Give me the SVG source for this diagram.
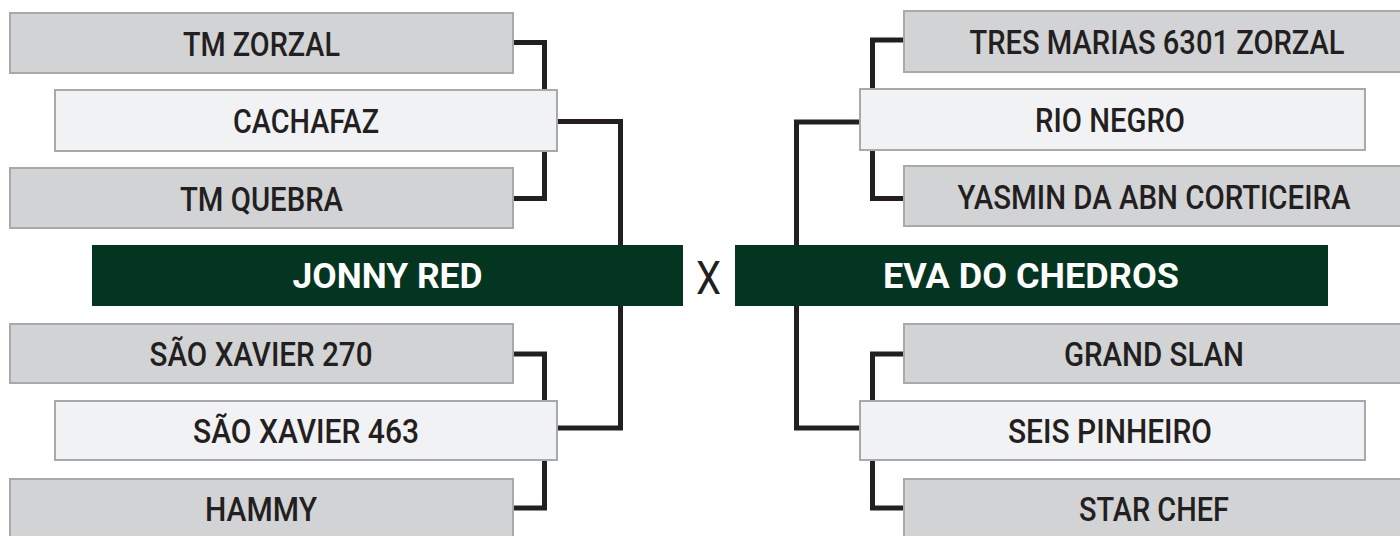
<svg xmlns="http://www.w3.org/2000/svg" width="1400" height="536" viewBox="0 0 1400 536">
<style>
.g{fill:#d1d3d4;stroke:#a7a9ac;stroke-width:2}
.l{fill:#f1f2f3;stroke:#a7a9ac;stroke-width:2}
.w{fill:#033520}
.t{font-family:Roboto,"Liberation Sans",Arial,sans-serif;font-size:33px;font-weight:500;fill:#231f20;text-anchor:middle}
.b{font-family:Roboto,"Liberation Sans",Arial,sans-serif;font-size:35px;font-weight:bold;fill:#ffffff;text-anchor:middle}
.x{font-family:Roboto,"Liberation Sans",Arial,sans-serif;font-size:46px;fill:#231f20;text-anchor:middle}
.c{fill:none;stroke:#231f20;stroke-width:5;stroke-linejoin:miter;stroke-linecap:butt}
</style>
<rect width="1400" height="536" fill="#ffffff"/>
<g id="connectors" class="c">
<path d="M514 42.5 H544.5 V90"/>
<path d="M544.5 151 V198.5 H514"/>
<path d="M558 121.5 H620.5 V245"/>
<path d="M514 354 H544.5 V401"/>
<path d="M544.5 460 V508 H514"/>
<path d="M558 428 H620.5 V306"/>
<path d="M903 40 H872.5 V90"/>
<path d="M872.5 151 V198.5 H903"/>
<path d="M859 122 H796.5 V245"/>
<path d="M903 354 H872.5 V401"/>
<path d="M872.5 460 V508 H903"/>
<path d="M859 428 H796.5 V306"/>
</g>
<g id="tm-zorzal"><rect class="g" x="10" y="13" width="503" height="60"/><text class="t" x="261.5" y="55.5" textLength="157" lengthAdjust="spacingAndGlyphs">TM ZORZAL</text></g>
<g id="cachafaz"><rect class="l" x="55" y="90" width="502" height="61"/><text class="t" x="306" y="133" textLength="146" lengthAdjust="spacingAndGlyphs">CACHAFAZ</text></g>
<g id="tm-quebra"><rect class="g" x="10" y="168" width="503" height="60"/><text class="t" x="261.5" y="210.5" textLength="163" lengthAdjust="spacingAndGlyphs">TM QUEBRA</text></g>
<g id="jonny-red"><rect class="w" x="92" y="245" width="591" height="61"/><text class="b" x="387.5" y="288" textLength="190" lengthAdjust="spacingAndGlyphs">JONNY RED</text></g>
<g id="sao-xavier-270"><rect class="g" x="10" y="324" width="503" height="59"/><text class="t" x="261" y="366" textLength="223" lengthAdjust="spacingAndGlyphs">SÃO XAVIER 270</text></g>
<g id="sao-xavier-463"><rect class="l" x="55" y="401" width="502" height="59"/><text class="t" x="306" y="443" textLength="226" lengthAdjust="spacingAndGlyphs">SÃO XAVIER 463</text></g>
<g id="hammy"><rect class="g" x="10" y="479" width="503" height="60"/><text class="t" x="261" y="521" textLength="112" lengthAdjust="spacingAndGlyphs">HAMMY</text></g>
<g id="versus"><text class="x" x="708.5" y="294" textLength="25" lengthAdjust="spacingAndGlyphs">X</text></g>
<g id="tres-marias"><rect class="g" x="904" y="11" width="503" height="61"/><text class="t" x="1157" y="54" textLength="375" lengthAdjust="spacingAndGlyphs">TRES MARIAS 6301 ZORZAL</text></g>
<g id="rio-negro"><rect class="l" x="860" y="89" width="505" height="61"/><text class="t" x="1110" y="132" textLength="150" lengthAdjust="spacingAndGlyphs">RIO NEGRO</text></g>
<g id="yasmin"><rect class="g" x="904" y="166" width="503" height="60"/><text class="t" x="1154" y="208.5" textLength="393" lengthAdjust="spacingAndGlyphs">YASMIN DA ABN CORTICEIRA</text></g>
<g id="eva-do-chedros"><rect class="w" x="735" y="245" width="593" height="61"/><text class="b" x="1031" y="288" textLength="296" lengthAdjust="spacingAndGlyphs">EVA DO CHEDROS</text></g>
<g id="grand-slan"><rect class="g" x="904" y="324" width="503" height="59"/><text class="t" x="1154" y="366" textLength="180" lengthAdjust="spacingAndGlyphs">GRAND SLAN</text></g>
<g id="seis-pinheiro"><rect class="l" x="860" y="401" width="505" height="59"/><text class="t" x="1110" y="443" textLength="204" lengthAdjust="spacingAndGlyphs">SEIS PINHEIRO</text></g>
<g id="star-chef"><rect class="g" x="904" y="479" width="503" height="60"/><text class="t" x="1154" y="521" textLength="150" lengthAdjust="spacingAndGlyphs">STAR CHEF</text></g>
</svg>
